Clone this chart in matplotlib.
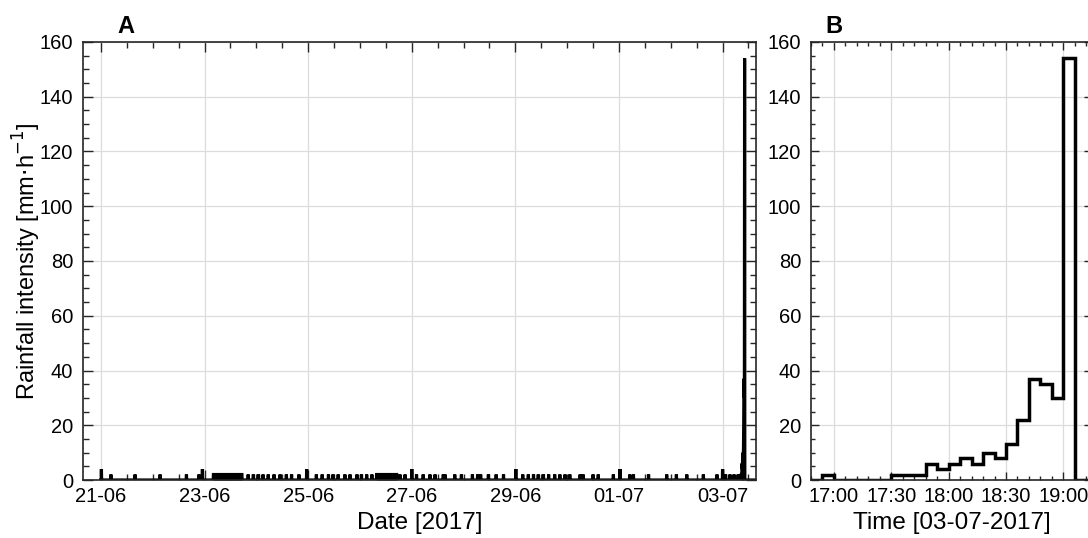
import numpy as np
import pandas as pd
import matplotlib
matplotlib.use("Agg")
import matplotlib.pyplot as plt
import matplotlib.dates as mdates
from matplotlib.ticker import MultipleLocator, FixedLocator, FixedFormatter

plt.rcParams['font.family'] = ['Liberation Sans', 'DejaVu Sans']

# ---------------- data ----------------
# Panel A: small tipping-bucket pulses (days after 21-06-2017 00:00, intensity mm/h)
spike_days = [0.01, 0.19, 0.66, 1.14, 1.65, 1.89, 1.96,
              2.84, 2.94, 3.04, 3.13, 3.23, 3.34, 3.46, 3.58, 3.68, 3.82, 3.97,
              4.16, 4.27, 4.39, 4.48, 4.58, 4.71, 4.81, 4.94, 5.03, 5.13, 5.23,
              5.77, 5.87, 6.00, 6.09, 6.22, 6.35, 6.45, 6.61,
              6.64, 6.83, 6.96, 7.17, 7.27, 7.33, 7.48, 7.63, 7.77,
              8.01, 8.14, 8.25, 8.35, 8.44, 8.54, 8.64, 8.76, 8.86, 8.96, 9.05,
              9.25, 9.31, 9.50, 9.60, 9.89, 10.02, 10.21, 10.28, 10.57, 10.92,
              11.11, 11.31, 11.63, 11.89, 12.00, 12.06, 12.14, 12.22, 12.30]
spike_vals = [4, 2, 2, 2, 2, 2, 4,
              2, 2, 2, 2, 2, 2, 2, 2, 2, 2, 4,
              2, 2, 2, 2, 2, 2, 2, 2, 2, 2, 2,
              2, 2, 4, 2, 2, 2, 2, 2,
              2, 2, 2, 2, 2, 2, 2, 2, 2,
              4, 2, 2, 2, 2, 2, 2, 2, 2, 2, 2,
              2, 2, 2, 2, 2, 4, 2, 2, 2, 2,
              2, 2, 2, 2, 4, 2, 2, 2, 2]
# continuous drizzle periods (start day, end day, intensity)
block_start = [2.17, 5.32]
block_end = [2.72, 5.71]
block_val = [2, 2]

# Panel B: 6-minute intensities on 03-07-2017, starting 16:48
event_start = "2017-07-03 16:48"
event_vals = [0, 2, 0, 0, 0, 0, 0, 2, 2, 2, 6, 4, 6, 8, 6, 10, 8, 13, 22, 37, 35, 30, 154, 0, 0]
# position of the event start on panel A's time axis (days after 21-06)
event_day_A = 12.333

a_tick_labels = ["21-06", "23-06", "25-06", "27-06", "29-06", "01-07", "03-07"]
a_tick_days = [0, 2, 4, 6, 8, 10, 12]
b_tick_labels = ["17:00", "17:30", "18:00", "18:30", "19:00"]

# ---------------- build panel A series ----------------
step = 1.0 / 240.0  # 6 minutes in days
n = int(round(12.65 / step)) + 1
tA = np.arange(n) * step
vA = np.zeros(n)
for d, v in zip(spike_days, spike_vals):
    vA[int(round(d / step))] = v
for s, e, v in zip(block_start, block_end, block_val):
    vA[int(round(s / step)):int(round(e / step)) + 1] = v
i0 = int(round(event_day_A / step))
for k, v in enumerate(event_vals):
    if i0 + k < n:
        vA[i0 + k] = v

# ---------------- figure ----------------
W, H = 1088, 538
fig = plt.figure(figsize=(W / 100, H / 100), dpi=100)

def ax_rect(l, r, t, b):
    return [l / W, (H - b) / H, (r - l) / W, (b - t) / H]

axA = fig.add_axes(ax_rect(83, 756, 42, 480))
axB = fig.add_axes(ax_rect(811, 1092, 42, 480))

grid_col = "#dcdcdc"
spine_col = "#262626"
TICK_FS = 14.5
LAB_FS = 17.5

# Panel A
axA.fill_between(tA, vA, 0, color="black", lw=0)
axA.plot(tA, vA, color="black", lw=2.3, solid_joinstyle="miter")
axA.set_xlim(-0.347, 12.645)
axA.set_ylim(0, 160)
axA.xaxis.set_major_locator(FixedLocator(a_tick_days))
axA.xaxis.set_major_formatter(FixedFormatter(a_tick_labels))
axA.xaxis.set_minor_locator(MultipleLocator(0.5))
axA.yaxis.set_major_locator(MultipleLocator(20))
axA.yaxis.set_minor_locator(MultipleLocator(5))
axA.set_xlabel("Date [2017]", fontsize=LAB_FS, labelpad=4)
axA.set_ylabel("Rainfall intensity [mm$\\cdot$h$^{-1}$]", fontsize=17, labelpad=-2)
axA.text(0.064, 1.01, "A", transform=axA.transAxes, fontsize=17, fontweight="bold",
         ha="center", va="bottom")

# Panel B
tB = pd.date_range(event_start, periods=len(event_vals), freq="6min")
tB_ext = list(tB) + [tB[-1] + pd.Timedelta(minutes=6)]
vB_ext = list(event_vals) + [event_vals[-1]]
axB.step(tB_ext, vB_ext, where="post", color="black", lw=2.5, solid_joinstyle="miter")
axB.set_xlim(pd.Timestamp("2017-07-03 16:48"), pd.Timestamp("2017-07-03 19:15"))
axB.set_ylim(0, 160)
b_ticks = pd.date_range("2017-07-03 17:00", periods=len(b_tick_labels), freq="30min")
axB.xaxis.set_major_locator(FixedLocator(mdates.date2num(b_ticks)))
axB.xaxis.set_major_formatter(FixedFormatter(b_tick_labels))
axB.xaxis.set_minor_locator(mdates.MinuteLocator(byminute=range(0, 60, 6)))
axB.yaxis.set_major_locator(MultipleLocator(20))
axB.yaxis.set_minor_locator(MultipleLocator(5))
axB.set_xlabel("Time [03-07-2017]", fontsize=LAB_FS, labelpad=4)
axB.text(0.08, 1.01, "B", transform=axB.transAxes, fontsize=17, fontweight="bold",
         ha="center", va="bottom")

for ax, (maj, mnr) in ((axA, (7, 4)), (axB, (5.5, 3))):
    ax.grid(True, which="major", color=grid_col, lw=0.9)
    ax.set_axisbelow(True)
    ax.tick_params(which="both", direction="in", top=True, right=True,
                   colors=spine_col, labelcolor="black", labelsize=TICK_FS)
    ax.tick_params(which="major", length=maj, width=1)
    ax.tick_params(axis="y", which="major", pad=7)
    ax.tick_params(axis="x", which="major", pad=5)
    ax.tick_params(which="minor", length=mnr, width=1)
    for sp in ax.spines.values():
        sp.set_color(spine_col)
        sp.set_linewidth(1.2)

fig.savefig("out.png", dpi=100)
